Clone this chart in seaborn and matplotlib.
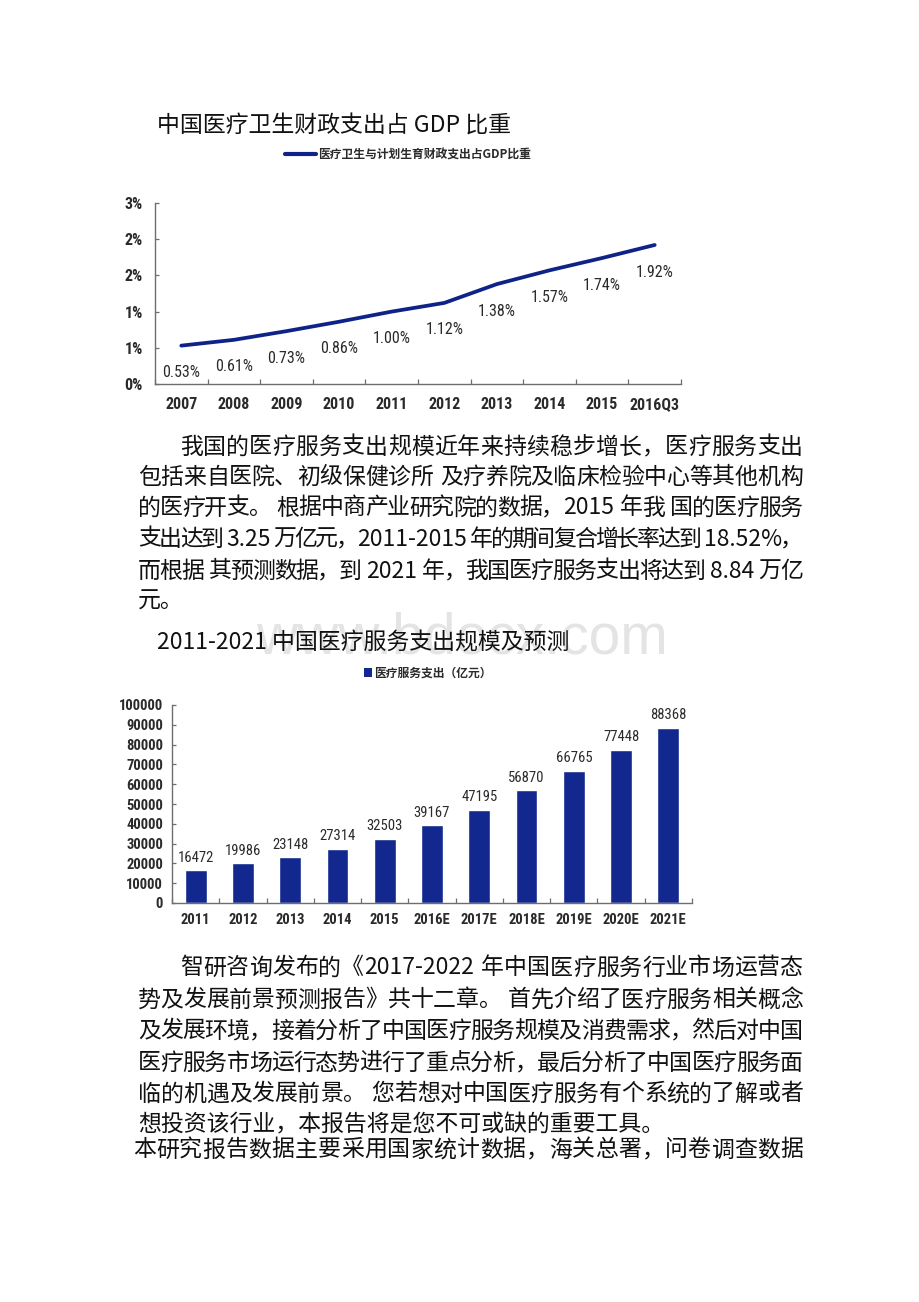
import numpy as np
import pandas as pd
import matplotlib
matplotlib.use("Agg")
import matplotlib.pyplot as plt
import seaborn as sns
from matplotlib import font_manager as fm
from matplotlib.lines import Line2D
from matplotlib.patches import Patch

# ---------------- data ----------------
years1 = ['2007', '2008', '2009', '2010', '2011', '2012', '2013', '2014', '2015', '2016Q3']
ratio_pct = [0.53, 0.61, 0.73, 0.86, 1.00, 1.12, 1.38, 1.57, 1.74, 1.92]
ytick1_vals = [0, 0.5, 1.0, 1.5, 2.0, 2.5]
ytick1_labels = ['0%', '1%', '1%', '2%', '2%', '3%']
legend1 = '医疗卫生与计划生育财政支出占GDP比重'
title1 = '中国医疗卫生财政支出占 GDP 比重'

years2 = ['2011', '2012', '2013', '2014', '2015', '2016E', '2017E', '2018E', '2019E', '2020E', '2021E']
spend = [16472, 19986, 23148, 27314, 32503, 39167, 47195, 56870, 66765, 77448, 88368]
ytick2_vals = list(range(0, 100001, 10000))
legend2 = '医疗服务支出（亿元）'
title2 = '2011-2021 中国医疗服务支出规模及预测'

para1 = [
    '我国的医疗服务支出规模近年来持续稳步增长，医疗服务支出',
    '包括来自医院、初级保健诊所 及疗养院及临床检验中心等其他机构',
    '的医疗开支。 根据中商产业研究院的数据，2015 年我 国的医疗服务',
    '支出达到 3.25 万亿元，2011-2015 年的期间复合增长率达到 18.52%，',
    '而根据 其预测数据，到 2021 年，我国医疗服务支出将达到 8.84 万亿',
    '元。',
]
para2 = [
    '智研咨询发布的《2017-2022 年中国医疗服务行业市场运营态',
    '势及发展前景预测报告》共十二章。 首先介绍了医疗服务相关概念',
    '及发展环境，接着分析了中国医疗服务规模及消费需求，然后对中国',
    '医疗服务市场运行态势进行了重点分析，最后分析了中国医疗服务面',
    '临的机遇及发展前景。 您若想对中国医疗服务有个系统的了解或者',
    '想投资该行业，本报告将是您不可或缺的重要工具。',
    '本研究报告数据主要采用国家统计数据，海关总署，问卷调查数据',
]

# ---------------- style ----------------
sns.set_theme(style='white')
CJK = ['Noto Sans CJK SC', 'DejaVu Sans']
plt.rcParams['font.family'] = CJK

entries = fm.fontManager.ttflist
names = {f.name for f in entries}
NUM_PROPS = None
for cand in ['Liberation Sans Narrow', 'Arial Narrow', 'Roboto Condensed']:
    if cand in names:
        NUM_PROPS = dict(family=cand)
        SCALE = 1.0
        break
if NUM_PROPS is None:
    if any(f.name == 'DejaVu Sans' and str(f.stretch) in ('condensed', 'semi-condensed') for f in entries):
        NUM_PROPS = dict(family='DejaVu Sans', stretch='condensed')
        SCALE = 0.95
    else:
        NUM_PROPS = dict(family='Liberation Sans')
        SCALE = 0.9


def wnum(w):
    try:
        return int(w)
    except Exception:
        return {'light': 300, 'normal': 400, 'regular': 400, 'book': 400}.get(str(w), 400)


BODY_W = 'normal'
if any(f.name == 'Noto Sans CJK SC' and 250 <= wnum(f.weight) <= 350 for f in entries):
    BODY_W = 'light'

NAVY = '#0f2288'
BAR = '#12288e'
AXC = '#6e6e6e'
TXT = '#111111'
LBL = '#2a2a2a'

W, H = 920, 1302


def fx(x):
    return x / W


def fy(y):
    return 1 - y / H


fig = plt.figure(figsize=(9.2, 13.02), dpi=100)
fig.patch.set_facecolor('white')
renderer = fig.canvas.get_renderer()

FS = 16.5
FS_PX = FS * 100 / 72

# watermark
fig.text(fx(256), fy(653), 'www.bdocx.com', fontsize=41, color='#e4e4e4',
         family='Liberation Sans', va='baseline', ha='left', zorder=1)

# ---------------- chart 1 ----------------
ax1 = fig.add_axes([fx(155), fy(384), (681 - 155) / W, (384 - 203) / H])
df1 = pd.DataFrame({'year': years1, 'ratio': ratio_pct})
sns.lineplot(data=df1, x='year', y='ratio', ax=ax1, color=NAVY, lw=2.7, sort=False)
ax1.set_xlim(-0.5, len(years1) - 0.5)
ax1.set_ylim(0, 2.5)
ax1.set_yticks(ytick1_vals)
ax1.set_yticklabels(ytick1_labels)
ax1.set_xticks(range(len(years1)))
ax1.set_xticklabels(years1)
ax1.set_xticks(np.arange(-0.5, len(years1)), minor=True)
ax1.set_xlabel('')
ax1.set_ylabel('')
for i, v in enumerate(ratio_pct):
    ax1.annotate(f'{v:.2f}%', (i, v), xytext=(0, -19.5), textcoords='offset points',
                 ha='center', va='center', fontsize=11.5 * SCALE, color=LBL,
                 fontfamily=NUM_PROPS['family'], fontstretch=NUM_PROPS.get('stretch', 'normal'))
sns.despine(ax=ax1)

# ---------------- chart 2 ----------------
ax2 = fig.add_axes([fx(172), fy(903), (692 - 172) / W, (903 - 705) / H])
df2 = pd.DataFrame({'year': years2, 'spend': spend})
sns.barplot(data=df2, x='year', y='spend', ax=ax2, color=BAR, width=0.46, saturation=1)
ax2.bar_label(ax2.containers[0], labels=[str(v) for v in spend], padding=4,
              fontsize=10.5 * SCALE, color=LBL, fontfamily=NUM_PROPS['family'],
              fontstretch=NUM_PROPS.get('stretch', 'normal'))
ax2.set_xlim(-0.5, len(years2) - 0.5)
ax2.set_ylim(0, 100000)
ax2.set_yticks(ytick2_vals)
ax2.set_yticklabels([str(v) for v in ytick2_vals])
ax2.set_xticks(range(len(years2)))
ax2.set_xticklabels(years2)
ax2.set_xticks(np.arange(-0.5, len(years2)), minor=True)
ax2.set_xlabel('')
ax2.set_ylabel('')
sns.despine(ax=ax2)

for ax, ypad, xpad, fs in [(ax1, 8.6, 9.5, 11.5), (ax2, 6.5, 7.5, 10.5)]:
    ax.set_facecolor('white')
    for sp in ['left', 'bottom']:
        ax.spines[sp].set_color(AXC)
        ax.spines[sp].set_linewidth(1.0)
    ax.tick_params(left=True, bottom=True, which='both')
    ax.tick_params(axis='x', which='minor', length=3.5, direction='in', color=AXC, width=0.9)
    ax.tick_params(axis='y', which='major', length=3, direction='in', color=AXC, width=0.9, pad=ypad)
    ax.tick_params(axis='x', which='major', length=0, pad=xpad)
    for lbl in ax.get_xticklabels() + ax.get_yticklabels():
        lbl.set_family(NUM_PROPS['family'])
        lbl.set_fontstretch(NUM_PROPS.get('stretch', 'normal'))
        lbl.set_fontweight('bold')
        lbl.set_fontsize(fs * SCALE)
        lbl.set_color(LBL)

# legends
fig.legend(handles=[Line2D([], [], color=NAVY, lw=3)], labels=[legend1], loc='center',
           bbox_to_anchor=(fx(408), fy(155)), frameon=False,
           prop=dict(family=CJK, size=8.5, weight='bold'), handlelength=2.6,
           handletextpad=0.2, labelcolor=LBL)
fig.legend(handles=[Patch(facecolor=BAR, edgecolor='none')], labels=[legend2], loc='center',
           bbox_to_anchor=(fx(428), fy(673)), frameon=False,
           prop=dict(family=CJK, size=8.5, weight='bold'), handlelength=0.7,
           handleheight=0.9, handletextpad=0.15, labelcolor=LBL)

# ---------------- titles & body text ----------------
fig.text(fx(157), fy(126), title1, fontsize=FS, color=TXT, va='center', ha='left',
         zorder=3, fontweight=BODY_W)
fig.text(fx(157), fy(643), title2, fontsize=FS, color=TXT, va='center', ha='left',
         zorder=3, fontweight=BODY_W)


def tokens(s):
    out, buf = [], ''
    for ch in s:
        if ord(ch) < 128 and ch != ' ':
            buf += ch
        else:
            if buf:
                out.append(buf)
                buf = ''
            out.append(ch)
    if buf:
        out.append(buf)
    return out


def measure(tok):
    t = fig.text(0, 0, tok, fontsize=FS, family=CJK, fontweight=BODY_W)
    w = t.get_window_extent(renderer).width
    t.remove()
    return w


def draw_line(s, x0, y, x1=None):
    if x1 is None:
        fig.text(fx(x0), fy(y), s, fontsize=FS, color=TXT, va='center', ha='left',
                 zorder=3, fontweight=BODY_W)
        return
    toks = tokens(s)
    widths = [FS_PX * 0.3 if t == ' ' else measure(t) for t in toks]
    gap = (x1 - x0 - sum(widths)) / (len(toks) - 1)
    x = x0
    for t, w in zip(toks, widths):
        if t != ' ':
            fig.text(fx(x), fy(y), t, fontsize=FS, color=TXT, va='center', ha='left',
                     zorder=3, fontweight=BODY_W)
        x += w + gap


R = 803
p1_pos = [(180, 447, R), (138, 477, R), (138, 508, R), (138, 539, R), (138, 571, R), (138, 601, None)]
for s, (x0, y, x1) in zip(para1, p1_pos):
    draw_line(s, x0, y, x1)

p2_pos = [(180, 968, R), (138, 1000, R), (138, 1031, R), (138, 1063, R), (138, 1094, R),
          (138, 1125, None), (133, 1150, R)]
for s, (x0, y, x1) in zip(para2, p2_pos):
    draw_line(s, x0, y, x1)

fig.savefig('out.png', dpi=100, facecolor='white')
